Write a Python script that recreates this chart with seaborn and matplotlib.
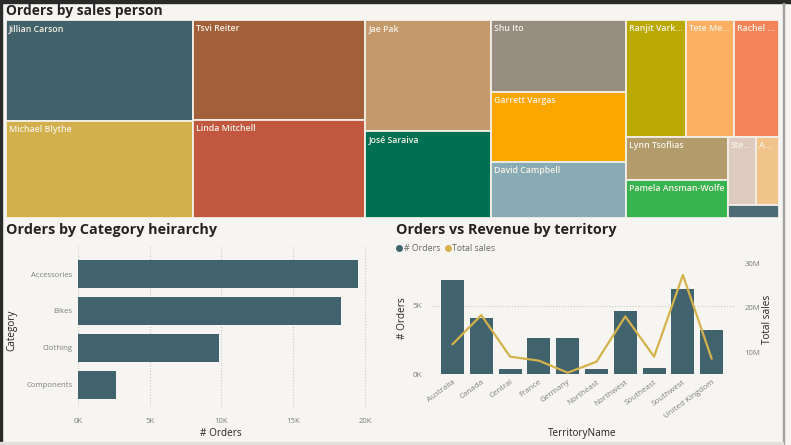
import matplotlib
matplotlib.use("Agg")
import matplotlib.pyplot as plt
from matplotlib.patches import Rectangle
from matplotlib.lines import Line2D
from matplotlib.ticker import FuncFormatter
import seaborn as sns
import numpy as np

# orders by sales person (treemap)
sales_people = ["Jillian Carson", "Michael Blythe", "Tsvi Reiter", "Linda Mitchell",
                "Jae Pak", "José Saraiva", "Shu Ito", "Garrett Vargas", "David Campbell",
                "Ranjit Varkey Chudukatil", "Tete Mensa-Annan", "Rachel Valdez",
                "Lynn Tsoflias", "Pamela Ansman-Wolfe", "Stephen Jiang", "Amy Alberts",
                "Syed Abbas"]
person_orders = [473, 450, 429, 418, 348, 271, 242, 234, 189, 175, 140, 130, 109, 95, 48, 39, 16]
person_colors = ["#41626b", "#d2b04c", "#a15f3a", "#c1573f", "#c49a6c", "#007052",
                 "#978c80", "#fca602", "#89abb5", "#b9a902", "#fbaf60", "#f3845a",
                 "#b29c6c", "#37b450", "#dccbbe", "#f0c48a", "#4d6b77"]

# orders by category
categories = ["Accessories", "Bikes", "Clothing", "Components"]
category_orders = [19510, 18330, 9830, 2650]

# orders vs revenue by territory
territories = ["Australia", "Canada", "Central", "France", "Germany", "Northeast",
               "Northwest", "Southeast", "Southwest", "United Kingdom"]
territory_orders = [6843, 4067, 385, 2672, 2623, 352, 4594, 486, 6224, 3219]
territory_sales = [11.74e6, 18.3e6, 8.96e6, 8.06e6, 5.36e6, 7.83e6, 18.0e6, 8.96e6, 27.3e6, 8.5e6]

BG = "#f6f5f1"
DARK = "#252423"
GREY = "#7f7f7f"
SLATE = "#41636d"
GOLD = "#d4b24c"
W, H = 791, 445

sns.set_theme(style="white")
plt.rcParams["font.family"] = ["Open Sans", "DejaVu Sans"]

fig = plt.figure(figsize=(W / 100, H / 100), dpi=100, facecolor=BG)


def px_axes(x0, y0, x1, y1):
    a = fig.add_axes([x0 / W, 1 - y1 / H, (x1 - x0) / W, (y1 - y0) / H])
    a.set_facecolor("none")
    return a


def squarify(values, x0, y0, x1, y1, ratio=(1 + 5 ** 0.5) / 2):
    # same row rule as d3.treemapSquarify
    rects = []
    total = float(sum(values))
    i0, n = 0, len(values)
    while i0 < n:
        dx, dy = x1 - x0, y1 - y0
        s = values[i0]
        i1 = i0 + 1
        vmin = vmax = s
        alpha = max(dy / dx, dx / dy) / (total * ratio)
        beta = s * s * alpha
        best = max(vmax / beta, beta / vmin)
        while i1 < n:
            v = values[i1]
            s2 = s + v
            mn, mx = min(vmin, v), max(vmax, v)
            beta = s2 * s2 * alpha
            r = max(mx / beta, beta / mn)
            if r > best:
                break
            s, vmin, vmax, best = s2, mn, mx, r
            i1 += 1
        row = values[i0:i1]
        if dx < dy:
            h = dy * s / total
            x = x0
            for v in row:
                w = dx * v / s
                rects.append((x, y0, w, h))
                x += w
            y0 += h
        else:
            w = dx * s / total
            y = y0
            for v in row:
                hh = dy * v / s
                rects.append((x0, y, w, hh))
                y += hh
            x0 += w
        total -= s
        i0 = i1
    return rects


# ---- treemap ----
fig.text(6 / W, 1 - 11 / H, "Orders by sales person", fontsize=9.9, fontweight="bold",
         color=DARK, va="center", ha="left")
tx0, ty0, tx1, ty1 = 6, 20, 779, 218
ax_tm = px_axes(tx0, ty0, tx1, ty1)
ax_tm.set_xlim(0, tx1 - tx0)
ax_tm.set_ylim(ty1 - ty0, 0)
ax_tm.set_axis_off()
renderer = fig.canvas.get_renderer()
rects = squarify(person_orders, 0, 0, tx1 - tx0, ty1 - ty0)
for (x, y, w, h), name, c in zip(rects, sales_people, person_colors):
    ax_tm.add_patch(Rectangle((x, y), w, h, facecolor=c, edgecolor="#f3efe7", linewidth=1.3))
    if h < 14:
        continue
    t = ax_tm.text(x + 3, y + 4, name, fontsize=6.3, fontweight="semibold", color="#f7f1e6",
                   ha="left", va="top")
    label = name
    while t.get_window_extent(renderer).width > w - 4 and len(label) > 1:
        label = label[:-1]
        t.set_text(label + "...")

# ---- orders by category ----
fig.text(6 / W, 1 - 230 / H, "Orders by Category heirarchy", fontsize=10.4, fontweight="bold",
         color=DARK, va="center", ha="left")
ax1 = px_axes(78, 245, 368, 407)
sns.barplot(x=category_orders, y=categories, orient="h", color=SLATE, saturation=1,
            width=0.76, errorbar=None, linewidth=0, ax=ax1)
ax1.set_xlim(0, 20210)
ax1.set_ylim(3.595, -0.784)
ax1.set_xticks([0, 5000, 10000, 15000, 20000])
ax1.xaxis.set_major_formatter(FuncFormatter(lambda v, p: f"{int(v / 1000)}K"))
ax1.grid(axis="x", linestyle=":", color="#c9c9c9", linewidth=0.8)
ax1.set_axisbelow(True)
ax1.tick_params(length=0, labelsize=5.6, labelcolor=GREY)
ax1.tick_params(axis="x", pad=8)
ax1.tick_params(axis="y", pad=4)
ax1.set_xlabel("# Orders", fontsize=7.2, color=DARK)
ax1.set_ylabel("Category", fontsize=7.2, color=DARK)
ax1.xaxis.set_label_coords((221 - 78) / 290, (407 - 428) / 162)
ax1.yaxis.set_label_coords((17 - 78) / 290, (407 - 330) / 162)
sns.despine(ax=ax1, left=True, bottom=True)

# ---- orders vs revenue ----
fig.text(396 / W, 1 - 230 / H, "Orders vs Revenue by territory", fontsize=10.4,
         fontweight="bold", color=DARK, va="center", ha="left")
ax2 = px_axes(432, 263, 735, 374.3)
sns.barplot(x=territories, y=territory_orders, color=SLATE, saturation=1, width=0.8,
            errorbar=None, linewidth=0, ax=ax2)
ax2.set_xlim(-0.712, 9.81)
ax2.set_ylim(0, 8110)
ax2.set_yticks([0, 5000])
ax2.yaxis.set_major_formatter(FuncFormatter(lambda v, p: f"{int(v / 1000)}K"))
ax2.grid(axis="y", linestyle=":", color="#c9c9c9", linewidth=0.8)
ax2.set_axisbelow(True)
ax2.tick_params(length=0, labelsize=5.8, labelcolor=GREY)
ax2.tick_params(axis="y", pad=7)
ax2.tick_params(axis="x", pad=3)
plt.setp(ax2.get_xticklabels(), rotation=36, ha="right", rotation_mode="anchor")
ax2.set_xlabel("TerritoryName", fontsize=7.2, color=DARK)
ax2.set_ylabel("# Orders", fontsize=7.2, color=DARK)
ax2.xaxis.set_label_coords((582 - 432) / 303, (374.3 - 428) / 111.3)
ax2.yaxis.set_label_coords((408 - 432) / 303, (374.3 - 318) / 111.3)
sns.despine(ax=ax2, left=True, bottom=True)

ax3 = ax2.twinx()
ax3.set_facecolor("none")
sns.lineplot(x=np.arange(len(territories)), y=territory_sales, color=GOLD, linewidth=1.6, ax=ax3)
ax3.set_ylim(5e6, 30e6)
ax3.set_yticks([10e6, 20e6, 30e6])
ax3.yaxis.set_major_formatter(FuncFormatter(lambda v, p: f"{int(v / 1e6)}M"))
ax3.tick_params(length=0, labelsize=5.6, labelcolor=GREY, pad=7)
ax3.set_ylabel("Total sales", fontsize=7.2, color=DARK)
ax3.yaxis.set_label_coords((762 - 432) / 303, (374.3 - 319) / 111.3)
sns.despine(ax=ax3, left=True, bottom=True, right=True)

handles = [Line2D([], [], marker="o", linestyle="", color=SLATE, markersize=4),
           Line2D([], [], marker="o", linestyle="", color=GOLD, markersize=4)]
fig.legend(handles, ["# Orders", "Total sales"], loc="center left",
           bbox_to_anchor=(395 / W, 1 - 249 / H), ncol=2, frameon=False, fontsize=6.3,
           handletextpad=0.05, columnspacing=0.3, handlelength=1.0, labelcolor="#666666",
           borderaxespad=0, borderpad=0)

# page frame
fig.patches.append(Rectangle((0, 1 - 3 / H), 1, 3 / H, transform=fig.transFigure,
                             color="#2a2a2a", zorder=10))
fig.patches.append(Rectangle((0, 0), 2 / W, 1, transform=fig.transFigure,
                             color="#2a2a2a", zorder=10))
fig.patches.append(Rectangle((783 / W, 0), 1 / W, 1 - 3 / H, transform=fig.transFigure,
                             color="#a0a0a0", zorder=10))
fig.patches.append(Rectangle((0, 0), 783 / W, 3 / H, transform=fig.transFigure,
                             color="#e2e0db", zorder=10))

fig.savefig("out.png", dpi=100, facecolor=BG)
